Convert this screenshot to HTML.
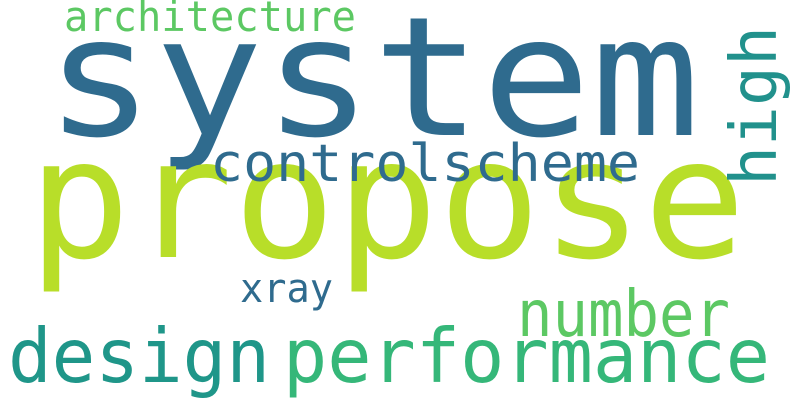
<!DOCTYPE html>
<html><head><meta charset="utf-8"><style>
html,body{margin:0;padding:0;background:#fff;width:800px;height:400px;overflow:hidden}
svg text{font-family:"DejaVu Sans Mono","Liberation Mono",monospace}
</style></head><body>
<svg width="800" height="400" viewBox="0 0 800 400" xmlns="http://www.w3.org/2000/svg">
<rect width="800" height="400" fill="#fff"/>
<text x="45" y="135" font-size="166" fill="#2f6b8e" textLength="655" lengthAdjust="spacingAndGlyphs">system</text>
<text x="28" y="257" font-size="166" fill="#b8de29" textLength="718" lengthAdjust="spacingAndGlyphs">propose</text>
<text x="64" y="31" font-size="42" fill="#5cc863" textLength="292" lengthAdjust="spacingAndGlyphs">architecture</text>
<text x="210" y="181" font-size="52" fill="#2f6b8e" textLength="430" lengthAdjust="spacingAndGlyphs">controlscheme</text>
<text transform="translate(776,186) rotate(-90)" x="0" y="0" font-size="64" fill="#21918c" textLength="160" lengthAdjust="spacingAndGlyphs">high</text>
<text x="240" y="302" font-size="40" fill="#2f6b8e" textLength="93" lengthAdjust="spacingAndGlyphs">xray</text>
<text x="517" y="336" font-size="64" fill="#5cc863" textLength="213" lengthAdjust="spacingAndGlyphs">number</text>
<text x="8" y="382" font-size="75" fill="#1f9689" textLength="262" lengthAdjust="spacingAndGlyphs">design</text>
<text x="283" y="382" font-size="75" fill="#35b779" textLength="487" lengthAdjust="spacingAndGlyphs">performance</text>
</svg>
</body></html>
